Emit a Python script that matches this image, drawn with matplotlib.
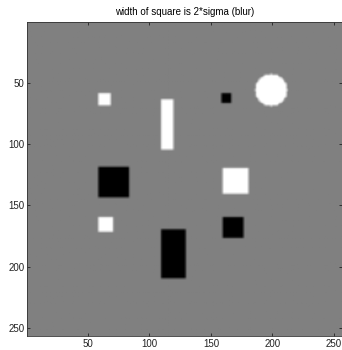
import numpy as np
import matplotlib
matplotlib.use("Agg")
import matplotlib.pyplot as plt

plt.rcParams['font.family'] = ['Liberation Sans', 'DejaVu Sans']

# image size and grey background
size = 256
background = 0.5

# rectangles: left, right, top, bottom (image coords), value
rect_x0 = [59, 110, 59, 59, 110, 159, 160, 160]
rect_x1 = [69, 120, 84, 71, 130, 167, 181, 177]
rect_y0 = [59, 64, 119, 160, 170, 59, 120, 160]
rect_y1 = [69, 105, 144, 172, 210, 67, 141, 177]
rect_val = [1, 1, 0, 1, 0, 0, 1, 0]

# white disc
circle_cx = 199
circle_cy = 56
circle_r = 13
circle_val = 1

coords = np.arange(1, size + 1)
X, Y = np.meshgrid(coords, coords)
img = np.full((size, size), background)
for x0, x1, y0, y1, v in zip(rect_x0, rect_x1, rect_y0, rect_y1, rect_val):
    img[(X >= x0) & (X < x1) & (Y >= y0) & (Y < y1)] = v
img[(X - circle_cx) ** 2 + (Y - circle_cy) ** 2 <= circle_r ** 2] = circle_val

# light smoothing of the edges
k = np.array([0.25, 0.5, 0.25])
pad = np.pad(img, 1, mode='edge')
img = k[0] * pad[:-2, 1:-1] + k[1] * pad[1:-1, 1:-1] + k[2] * pad[2:, 1:-1]
pad = np.pad(img, 1, mode='edge')
img = k[0] * pad[1:-1, :-2] + k[1] * pad[1:-1, 1:-1] + k[2] * pad[1:-1, 2:]

fig = plt.figure(figsize=(3.42, 3.5), dpi=100)
ax = fig.add_axes([0.079, 0.04, 0.921, 0.897])
ax.imshow(img, cmap='gray', vmin=0, vmax=1, extent=[0.5, size + 0.5, size + 0.5, 0.5],
          aspect='auto', interpolation='antialiased')
ax.set_xticks([50, 100, 150, 200, 250])
ax.set_yticks([50, 100, 150, 200, 250])
ax.tick_params(direction='in', length=2.5, width=0.6, labelsize=7, colors='#222222',
               top=True, right=True, pad=2)
for s in ax.spines.values():
    s.set_linewidth(0.6)
    s.set_color('#333333')
ax.set_title('width of square is 2*sigma (blur)', fontsize=7, pad=5)

fig.savefig('out.png', dpi=100)
